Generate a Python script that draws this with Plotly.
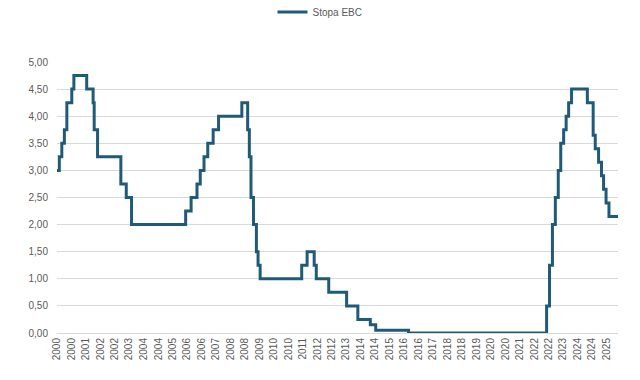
import plotly.graph_objects as go

# ECB main refinancing rate: dates of change and new rate (%)
dates = [
    "2000-01-01", "2000-02-09", "2000-03-22", "2000-05-04", "2000-06-15", "2000-09-06",
    "2000-10-11", "2001-05-15", "2001-08-31", "2001-09-18", "2001-11-14", "2002-12-11",
    "2003-03-12", "2003-06-09", "2005-12-06", "2006-03-08", "2006-06-15", "2006-08-09",
    "2006-10-11", "2006-12-13", "2007-03-14", "2007-06-13", "2008-07-09", "2008-10-15",
    "2008-11-12", "2008-12-10", "2009-01-21", "2009-03-11", "2009-04-08", "2009-05-13",
    "2011-04-13", "2011-07-13", "2011-11-09", "2011-12-14", "2012-07-11", "2013-05-08",
    "2013-11-13", "2014-06-11", "2014-09-10", "2016-03-16", "2022-07-27", "2022-09-14",
    "2022-11-02", "2022-12-21", "2023-02-08", "2023-03-22", "2023-05-10", "2023-06-21",
    "2023-08-02", "2023-09-20", "2024-06-12", "2024-09-18", "2024-10-23", "2024-12-18",
    "2025-02-05", "2025-03-12", "2025-04-23", "2025-06-11", "2025-11-10",
]
rates = [
    3.00, 3.25, 3.50, 3.75, 4.25, 4.50,
    4.75, 4.50, 4.25, 3.75, 3.25, 2.75,
    2.50, 2.00, 2.25, 2.50, 2.75, 3.00,
    3.25, 3.50, 3.75, 4.00, 4.25, 3.75,
    3.25, 2.50, 2.00, 1.50, 1.25, 1.00,
    1.25, 1.50, 1.25, 1.00, 0.75, 0.50,
    0.25, 0.15, 0.05, 0.00, 0.50, 1.25,
    2.00, 2.50, 3.00, 3.50, 3.75, 4.00,
    4.25, 4.50, 4.25, 3.65, 3.40, 3.15,
    2.90, 2.65, 2.40, 2.15, 2.15,
]
series_name = "Stopa EBC"

fig = go.Figure()
fig.add_trace(go.Scatter(
    x=dates, y=rates, mode="lines", name=series_name,
    line=dict(color="#1F5B78", width=3, shape="hv"),
    showlegend=True,
))

font_family = "Liberation Sans, Arial, sans-serif"
fig.update_layout(
    width=640, height=380,
    margin=dict(l=49, r=30, t=54, b=55, autoexpand=False),
    paper_bgcolor="white", plot_bgcolor="white",
    separators=", ",
    font=dict(family=font_family, size=10, color="#595959"),
    showlegend=True,
    legend=dict(
        orientation="h",
        x=0.4688, xanchor="center", y=1.1845, yanchor="middle",
        font=dict(size=10, color="#595959"),
        bgcolor="rgba(0,0,0,0)",
    ),
    xaxis=dict(
        type="date",
        range=[dates[0], dates[-1]],
        tick0="2000-01-01", dtick="M8", tickformat="%Y",
        tickangle=-90, showgrid=False, ticks="",
        showline=True, linecolor="#D9D9D9", linewidth=1,
        tickfont=dict(size=10, color="#595959"),
        zeroline=False, automargin=False,
    ),
    yaxis=dict(
        range=[0, 5], dtick=0.5, tick0=0, tickformat=".2f",
        showgrid=True, gridcolor="#D9D9D9", gridwidth=1,
        zeroline=False, ticks="", showline=False,
        tickfont=dict(size=10, color="#595959"),
        ticklabelstandoff=8, automargin=False,
    ),
)

fig.write_html("out.html")
